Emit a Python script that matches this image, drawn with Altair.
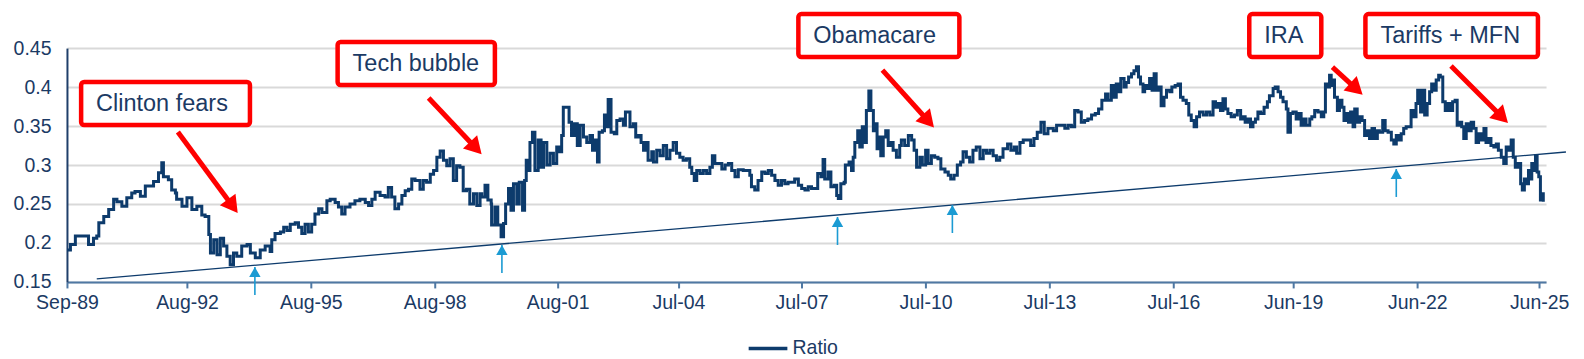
import math
import pandas as pd
import altair as alt

# ---------------- data (decimal years, ratio) ----------------
years_a = [1989.67,1989.75,1989.87,1990.11,1990.19,1990.31,1990.39,1990.44,1990.56,1990.68,
           1990.80,1990.88,1991.00,1991.12,1991.24,1991.32,1991.45,1991.57,1991.65,1991.77,
           1991.89,1991.97,1992.01,1992.13,1992.21,1992.30,1992.33,1992.46,1992.58,1992.70,
           1992.82,1992.94,1993.02,1993.11,1993.15,1993.23,1993.31,1993.39,1993.47,1993.55,
           1993.63,1993.71,1993.79,1993.91,1994.04,1994.12,1994.24,1994.36,1994.48,1994.60,1994.64]
ratio_a = [0.191,0.198,0.209,0.209,0.198,0.206,0.209,0.226,0.234,0.243,
           0.256,0.253,0.247,0.258,0.264,0.266,0.260,0.273,0.273,0.279,
           0.290,0.303,0.285,0.281,0.268,0.264,0.256,0.247,0.258,0.243,
           0.247,0.236,0.234,0.211,0.187,0.204,0.185,0.206,0.196,0.183,
           0.172,0.187,0.183,0.196,0.198,0.187,0.181,0.191,0.196,0.189,0.204]

years_b = [1994.72,1994.85,1994.93,1995.01,1995.09,1995.21,1995.29,1995.37,1995.45,1995.53,
           1995.61,1995.69,1995.78,1995.86,1995.98,1996.06,1996.18,1996.26,1996.34,1996.42,
           1996.54,1996.66,1996.78,1996.91,1996.99,1997.07,1997.15,1997.27,1997.39,1997.47,
           1997.55,1997.63,1997.72,1997.80,1997.88,1997.96,1998.04,1998.12,1998.24,1998.32,
           1998.40,1998.49,1998.57,1998.65,1998.73,1998.81,1998.89,1998.97,1999.05,1999.13,
           1999.21,1999.29,1999.37,1999.45,1999.54,1999.62,1999.70]
ratio_b = [0.212,0.214,0.220,0.216,0.224,0.226,0.220,0.212,0.224,0.214,
           0.224,0.237,0.244,0.239,0.254,0.256,0.252,0.246,0.237,0.246,
           0.250,0.254,0.256,0.252,0.248,0.256,0.265,0.261,0.259,0.271,
           0.259,0.244,0.250,0.261,0.267,0.269,0.282,0.280,0.269,0.280,
           0.278,0.288,0.293,0.310,0.318,0.306,0.299,0.308,0.280,0.299,
           0.297,0.267,0.269,0.250,0.263,0.248,0.263]

years_c = [1999.74,1999.82,1999.89,1999.97,1999.98,2000.06,2000.13,2000.21,2000.27,2000.32,
           2000.39,2000.45,2000.51,2000.59,2000.65,2000.73,2000.78,2000.82,2000.87,2000.91,
           2000.97,2001.03,2001.11,2001.18,2001.24,2001.32,2001.40,2001.48,2001.56,2001.62,
           2001.68,2001.72,2001.80,2001.86,2001.92,2001.99,2002.06,2002.13,2002.21,2002.29,
           2002.37,2002.43,2002.49,2002.55,2002.59,2002.67,2002.72,2002.77,2002.81,2002.88,
           2002.96,2003.02,2003.10,2003.18,2003.23,2003.30,2003.34,2003.42,2003.48,2003.54,
           2003.61,2003.67,2003.74,2003.78,2003.87,2003.91,2003.99,2004.07,2004.15,2004.23,
           2004.31,2004.39,2004.47,2004.55,2004.63,2004.71,2004.79]
ratio_c = [0.259,0.274,0.255,0.250,0.223,0.246,0.223,0.208,0.225,0.250,
           0.270,0.242,0.276,0.250,0.278,0.242,0.280,0.306,0.293,0.329,
           0.342,0.293,0.332,0.297,0.329,0.300,0.315,0.302,0.323,0.317,
           0.338,0.374,0.374,0.355,0.338,0.353,0.325,0.351,0.336,0.329,
           0.338,0.319,0.332,0.304,0.342,0.344,0.364,0.349,0.384,0.342,
           0.340,0.357,0.359,0.351,0.368,0.368,0.349,0.353,0.336,0.338,
           0.329,0.319,0.329,0.306,0.317,0.304,0.319,0.312,0.325,0.308,
           0.319,0.329,0.315,0.310,0.306,0.308,0.297]

years_d = [2004.84,2004.90,2004.96,2005.04,2005.12,2005.20,2005.28,2005.34,2005.40,2005.48,
           2005.57,2005.65,2005.73,2005.81,2005.89,2005.97,2006.09,2006.17,2006.25,2006.29,
           2006.37,2006.45,2006.54,2006.62,2006.70,2006.78,2006.86,2006.94,2007.02,2007.10,
           2007.18,2007.26,2007.34,2007.43,2007.51,2007.59,2007.67,2007.75,2007.83,2007.90,
           2007.98,2008.03,2008.07,2008.15,2008.22,2008.30,2008.36,2008.40,2008.46,2008.54,
           2008.57,2008.66,2008.72,2008.76,2008.80,2008.87,2008.92,2008.98,2009.03,2009.08,
           2009.14,2009.19,2009.25,2009.30,2009.34,2009.38,2009.43,2009.49,2009.55,2009.61,
           2009.66,2009.73,2009.81,2009.89]
ratio_d = [0.289,0.280,0.293,0.289,0.293,0.289,0.297,0.312,0.302,0.302,
           0.295,0.300,0.302,0.293,0.285,0.294,0.293,0.293,0.287,0.272,
           0.268,0.280,0.291,0.289,0.293,0.287,0.280,0.274,0.280,0.276,
           0.278,0.278,0.282,0.274,0.270,0.268,0.272,0.270,0.270,0.289,
           0.285,0.307,0.282,0.291,0.272,0.274,0.261,0.257,0.276,0.278,
           0.300,0.304,0.293,0.310,0.329,0.344,0.323,0.349,0.329,0.370,
           0.395,0.370,0.344,0.353,0.321,0.336,0.312,0.336,0.344,0.325,
           0.329,0.319,0.310,0.325]

years_e = [2009.93,2010.01,2010.10,2010.18,2010.24,2010.30,2010.38,2010.44,2010.52,2010.58,
           2010.66,2010.74,2010.82,2010.89,2010.99,2011.07,2011.13,2011.21,2011.29,2011.37,
           2011.43,2011.51,2011.59,2011.67,2011.75,2011.84,2011.92,2012.00,2012.08,2012.16,
           2012.24,2012.32,2012.40,2012.51,2012.59,2012.67,2012.73,2012.81,2012.89,2012.99,
           2013.07,2013.15,2013.23,2013.32,2013.40,2013.49,2013.62,2013.70,2013.82,2013.90,
           2013.98,2014.06,2014.14,2014.22,2014.30,2014.38,2014.46,2014.55,2014.64,2014.72,
           2014.80,2014.89,2014.95]
ratio_e = [0.332,0.325,0.338,0.332,0.319,0.297,0.310,0.300,0.319,0.302,
           0.312,0.310,0.308,0.295,0.291,0.287,0.282,0.287,0.300,0.304,
           0.317,0.310,0.304,0.319,0.323,0.308,0.319,0.315,0.319,0.312,
           0.306,0.310,0.321,0.327,0.319,0.323,0.315,0.329,0.332,0.332,
           0.325,0.334,0.342,0.355,0.340,0.347,0.344,0.351,0.351,0.347,
           0.351,0.349,0.370,0.368,0.355,0.357,0.359,0.364,0.366,0.372,
           0.383,0.391,0.383]

years_f = [2015.03,2015.10,2015.15,2015.21,2015.26,2015.34,2015.39,2015.45,2015.52,2015.58,
           2015.64,2015.69,2015.74,2015.80,2015.84,2015.90,2015.96,2016.02,2016.07,2016.12,
           2016.18,2016.24,2016.31,2016.37,2016.45,2016.50,2016.58,2016.65,2016.71,2016.77,
           2016.85,2016.91,2016.97,2017.04,2017.10,2017.17,2017.26,2017.34,2017.42,2017.50,
           2017.56,2017.62,2017.68,2017.74,2017.80,2017.86,2017.94,2018.02,2018.09,2018.17,
           2018.23,2018.28,2018.35,2018.41,2018.47,2018.53,2018.59,2018.66,2018.74,2018.82,
           2018.87,2018.96,2019.01,2019.08,2019.14,2019.20,2019.28,2019.32,2019.38,2019.44,
           2019.52,2019.58,2019.64,2019.71,2019.76,2019.85,2019.90,2019.97,2020.05]
ratio_f = [0.402,0.387,0.404,0.394,0.411,0.400,0.406,0.413,0.417,0.421,
           0.426,0.413,0.404,0.394,0.402,0.398,0.411,0.396,0.417,0.396,
           0.400,0.376,0.387,0.396,0.394,0.400,0.402,0.404,0.387,0.383,
           0.379,0.364,0.357,0.349,0.362,0.368,0.364,0.368,0.364,0.381,
           0.374,0.379,0.370,0.385,0.372,0.366,0.362,0.364,0.370,0.359,
           0.362,0.355,0.359,0.349,0.355,0.359,0.368,0.366,0.374,0.381,
           0.389,0.398,0.400,0.394,0.387,0.381,0.372,0.342,0.366,0.368,
           0.359,0.366,0.351,0.359,0.351,0.359,0.362,0.370,0.368]

years_g = [2020.13,2020.19,2020.23,2020.29,2020.33,2020.37,2020.41,2020.45,2020.52,2020.57,
           2020.63,2020.68,2020.73,2020.79,2020.84,2020.90,2020.94,2021.00,2021.06,2021.12,
           2021.18,2021.24,2021.30,2021.36,2021.42,2021.49,2021.54,2021.62,2021.68,2021.75,
           2021.83,2021.89,2021.95,2022.00,2022.07,2022.13,2022.19,2022.25,2022.31,2022.38,
           2022.43,2022.47,2022.54,2022.60,2022.64,2022.70,2022.76,2022.81,2022.88,2022.92,
           2022.98,2023.02,2023.08,2023.14,2023.20,2023.27,2023.32,2023.38,2023.43,2023.49,
           2023.54,2023.59,2023.65,2023.70,2023.77,2023.83,2023.89,2023.95,2024.01,2024.08,
           2024.13,2024.19,2024.25,2024.32,2024.38,2024.43,2024.50,2024.56,2024.62,2024.68,
           2024.74,2024.79,2024.84,2024.90,2024.97,2025.01,2025.06,2025.10,2025.16,2025.21,
           2025.24,2025.29,2025.33,2025.37,2025.41,2025.45,2025.49,2025.52]
ratio_g = [0.362,0.368,0.404,0.400,0.415,0.402,0.409,0.387,0.370,0.383,
           0.374,0.357,0.366,0.355,0.368,0.349,0.372,0.355,0.362,0.357,
           0.338,0.344,0.334,0.347,0.334,0.344,0.342,0.357,0.344,0.342,
           0.332,0.327,0.338,0.332,0.340,0.347,0.349,0.349,0.370,0.362,
           0.379,0.396,0.368,0.396,0.364,0.379,0.394,0.404,0.396,0.409,
           0.415,0.413,0.381,0.370,0.379,0.370,0.381,0.383,0.351,0.355,
           0.349,0.334,0.353,0.344,0.355,0.347,0.329,0.340,0.332,0.347,
           0.329,0.334,0.325,0.323,0.327,0.319,0.310,0.302,0.323,0.319,
           0.332,0.310,0.297,0.302,0.276,0.268,0.282,0.276,0.293,0.282,
           0.302,0.293,0.312,0.291,0.285,0.255,0.263,0.253]

# support trend line
trend_years = [1990.39, 2026.07]
trend_ratio = [0.1538, 0.3167]

# blue arrows where the ratio touched the trend line
touch_years = [1994.23, 2000.23, 2008.38, 2011.17, 2021.95]
touch_tip = [0.1692, 0.1974, 0.2333, 0.2487, 0.2949]
touch_tail = [0.1333, 0.1615, 0.1974, 0.2128, 0.2590]

# annotation boxes and red arrows
labels = ["Clinton fears", "Tech bubble", "Obamacare", "IRA", "Tariffs + MFN"]
box_x1 = [1990.01, 1996.24, 2007.43, 2018.38, 2021.20]
box_x2 = [1994.11, 2000.06, 2011.34, 2020.13, 2025.39]
box_top = [0.4064, 0.4577, 0.4936, 0.4936, 0.4936]
box_bottom = [0.3513, 0.4026, 0.4385, 0.4385, 0.4385]
arrow_x1 = [1992.36, 1998.45, 2009.47, 2020.40, 2023.28]
arrow_y1 = [0.3423, 0.3859, 0.4218, 0.4256, 0.4269]
arrow_x2 = [1993.65, 1999.55, 2010.54, 2020.93, 2024.47]
arrow_y2 = [0.2500, 0.3244, 0.3590, 0.4000, 0.3641]

tick_dates = ["1989-09-01", "1992-08-01", "1995-08-04", "1998-08-07", "2001-08-01",
              "2004-07-08", "2007-07-05", "2010-07-09", "2013-07-12", "2016-07-16",
              "2019-06-13", "2022-06-18", "2025-06-03"]
y_ticks = [0.15, 0.2, 0.25, 0.3, 0.35, 0.4, 0.45]
x_domain = ["1989-09-01", "2025-08-03"]
y_domain = [0.15, 0.45]

# ---------------- helpers ----------------
def ms(y):
    """decimal year -> epoch milliseconds (UTC)"""
    yr = int(math.floor(y))
    a = pd.Timestamp(year=yr, month=1, day=1)
    b = pd.Timestamp(year=yr + 1, month=1, day=1)
    t = a + (b - a) * (y - yr)
    return int(t.value // 10**6)

def ms_str(s):
    return int(pd.Timestamp(s).value // 10**6)

years = years_a + years_b + years_c + years_d + years_e + years_f + years_g
ratio = ratio_a + ratio_b + ratio_c + ratio_d + ratio_e + ratio_f + ratio_g
series = pd.DataFrame({"t": [ms(y) for y in years], "v": ratio, "s": "Ratio"})
trend = pd.DataFrame({"t": [ms(y) for y in trend_years], "v": trend_ratio})
touch = pd.DataFrame({"t": [ms(y) for y in touch_years], "tip": touch_tip, "tail": touch_tail})
W, H = 1480, 234
span_ms = ms_str(x_domain[1]) - ms_str(x_domain[0])
ann = pd.DataFrame({
    "label": labels,
    "bx1": [ms(y) for y in box_x1], "bx2": [ms(y) for y in box_x2],
    "by1": box_top, "by2": box_bottom,
    "bym": [(a + b) / 2 for a, b in zip(box_top, box_bottom)],
    "ax1": [ms(y) for y in arrow_x1], "ax2": [ms(y) for y in arrow_x2],
    "ay1": arrow_y1, "ay2": arrow_y2,
})
# heading of each red arrow in screen space (degrees clockwise from up)
ang = []
for i in range(len(labels)):
    dx = (ann["ax2"][i] - ann["ax1"][i]) / span_ms * W
    dy = (arrow_y1[i] - arrow_y2[i]) / (y_domain[1] - y_domain[0]) * H
    ang.append(math.degrees(math.atan2(dx, -dy)) % 360)
ann["ang"] = ang

FONT = "Liberation Sans"
TEXT = "#1b3a64"
NAVY = "#0d3b6c"
RED = "#ff0000"
BLUE = "#1b9bd3"

xs = alt.Scale(type="utc", domain=[ms_str(d) for d in x_domain], nice=False)
ys = alt.Scale(domain=y_domain, nice=False, zero=False)

x_axis = alt.Axis(values=[ms_str(d) for d in tick_dates],
                  labelExpr="utcFormat(datum.value, '%b-%y')",
                  title=None, grid=False, labelFont=FONT, labelFontSize=19.5, labelColor=TEXT,
                  domainColor="#4f78a3", domainWidth=2, tickColor="#4f78a3", tickWidth=2,
                  tickSize=6, labelPadding=6, labelFlush=False, labelOverlap=False)
y_axis = alt.Axis(values=y_ticks, labelExpr="format(datum.value, '~g')", title=None,
                  grid=True, gridColor="#d9d9d9", gridWidth=2, ticks=False, tickSize=0,
                  labelFont=FONT, labelFontSize=19.5, labelOverlap=False,
                  labelColor=TEXT, labelPadding=16, domainColor="#1f3f6a", domainWidth=2)

def X(f):
    return alt.X(f, scale=xs, axis=x_axis)

def Y(f):
    return alt.Y(f, scale=ys, axis=y_axis)

line = alt.Chart(series).mark_line(interpolate="step-after", strokeWidth=3).encode(
    x=X("t:T"), y=Y("v:Q"),
    color=alt.Color("s:N", scale=alt.Scale(domain=["Ratio"], range=[NAVY]),
                    legend=alt.Legend(title=None, orient="none", legendX=680, legendY=279,
                                      symbolType="stroke", symbolStrokeWidth=3.5,
                                      symbolSize=1500, labelFont=FONT, labelFontSize=19.5,
                                      labelColor=TEXT, labelOffset=3, padding=0)),
)

trend_l = alt.Chart(trend).mark_line(color=NAVY, strokeWidth=1.3).encode(x=X("t:T"), y=Y("v:Q"))

shafts = alt.Chart(touch).mark_rule(color=BLUE, strokeWidth=1.6).encode(
    x=X("t:T"), y=Y("tail:Q"), y2="tip:Q")
heads = alt.Chart(touch).mark_point(shape="triangle-up", filled=True, size=130, color=BLUE,
                                    opacity=1, yOffset=5).encode(x=X("t:T"), y=Y("tip:Q"))

boxes = alt.Chart(ann).mark_rect(fill="white", stroke=RED, strokeWidth=4.5, cornerRadius=3).encode(
    x=X("bx1:T"), x2="bx2:T", y=Y("by1:Q"), y2="by2:Q")
texts = alt.Chart(ann).mark_text(align="left", baseline="middle", dx=15, font=FONT,
                                 fontSize=23.5, color=TEXT).encode(
    x=X("bx1:T"), y=Y("bym:Q"), text="label:N")
rshaft = alt.Chart(ann).mark_rule(color=RED, strokeWidth=5).encode(
    x=X("ax1:T"), x2="ax2:T", y=Y("ay1:Q"), y2="ay2:Q")
rhead = alt.Chart(ann).mark_point(shape="triangle", filled=True, size=380, color=RED,
                                  opacity=1).encode(
    x=X("ax2:T"), y=Y("ay2:Q"), angle=alt.Angle("ang:Q", scale=None))

chart = alt.layer(line, trend_l, shafts, heads, boxes, texts, rshaft, rhead).properties(
    width=W, height=H,
    autosize=alt.AutoSizeParams(type="none"),
    padding={"left": 59, "top": 40, "right": 30, "bottom": 76},
).configure(font=FONT).configure_view(stroke=None)

chart.save("out.html", embed_options={"renderer": "svg", "actions": False})
